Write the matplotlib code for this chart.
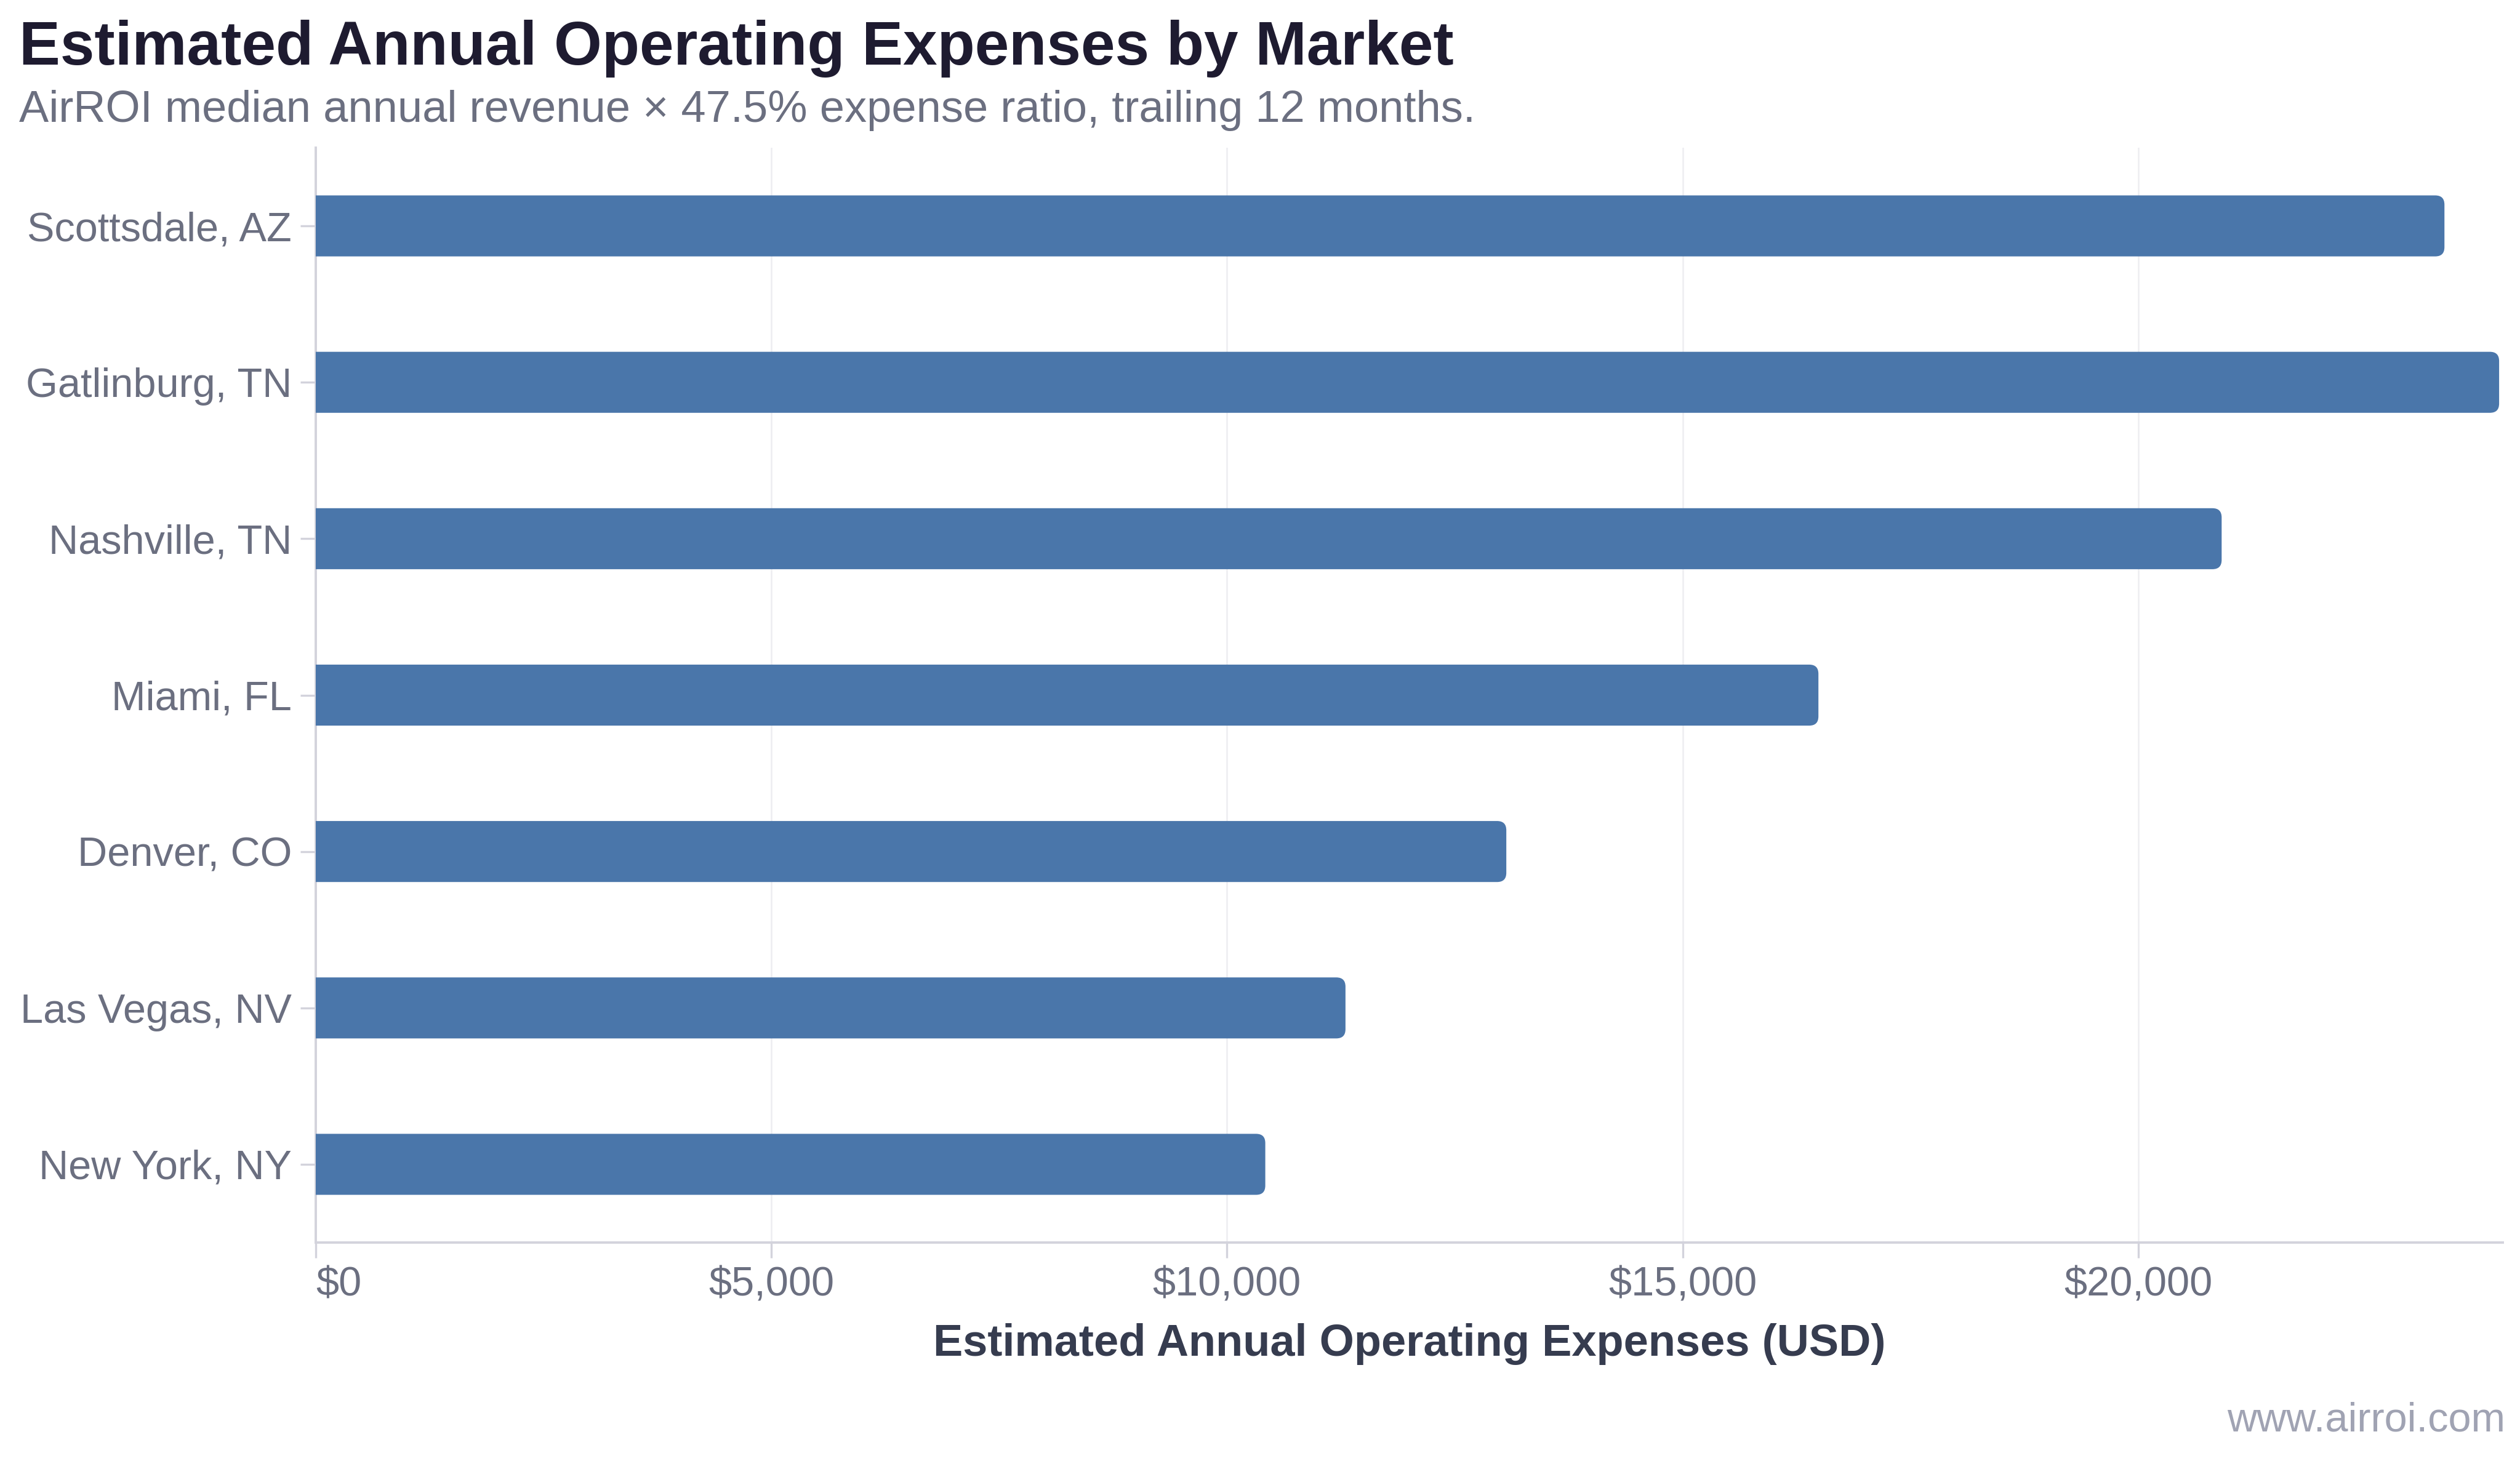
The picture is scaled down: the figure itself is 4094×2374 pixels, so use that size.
import matplotlib
matplotlib.use("Agg")
import matplotlib.pyplot as plt
from matplotlib.patches import FancyBboxPatch
from matplotlib.ticker import FuncFormatter

markets = ["Scottsdale, AZ", "Gatlinburg, TN", "Nashville, TN", "Miami, FL",
           "Denver, CO", "Las Vegas, NV", "New York, NY"]
expenses = [23360, 23960, 20915, 16490, 13065, 11300, 10420]
xticks = [0, 5000, 10000, 15000, 20000]

plt.rcParams['font.family'] = ['Liberation Sans', 'DejaVu Sans']

W, H, DPI = 4094, 2374, 200
fig = plt.figure(figsize=(W / DPI, H / DPI), dpi=DPI, facecolor="white")
ax = fig.add_axes([513 / W, 1 - 2019 / H, (4066 - 513) / W, (2019 - 240) / H])

n = len(markets)
ypos = list(range(n))
xmax = 24000
ax.set_xlim(0, xmax)
ax.set_ylim(n - 0.5, -0.5)

ax_w_px = (4066 - 513)
ax_h_px = (2019 - 240)
xpx = ax_w_px / xmax
ypx = ax_h_px / n
r_px = 15
r_x = r_px / xpx
aspect = xpx / ypx
bar_h = 0.39
color = "#4a76aa"
for y, v in zip(ypos, expenses):
    p = FancyBboxPatch((-r_x * 2, y - bar_h / 2), v + r_x * 2, bar_h,
                       boxstyle=f"round,pad=0,rounding_size={r_x}",
                       mutation_aspect=aspect, facecolor=color,
                       edgecolor="none", zorder=3)
    ax.add_patch(p)

ax.set_yticks(ypos)
ax.set_yticklabels(markets)
ax.set_xticks(xticks)
ax.xaxis.set_major_formatter(FuncFormatter(lambda v, p: f"${v:,.0f}"))

tick_c = "#6b6f80"
ax.tick_params(axis="both", labelsize=24, labelcolor=tick_c, color="#d3d3dc",
               length=9, width=1.2)
ax.tick_params(axis="y", pad=5)
ax.tick_params(axis="x", pad=5)
for lbl in ax.get_xticklabels():
    lbl.set_horizontalalignment("left" if lbl.get_text() == "$0" else "center")

ax.grid(axis="x", color="#ededf1", linewidth=0.9, zorder=0)
ax.set_axisbelow(True)
for s in ["top", "right"]:
    ax.spines[s].set_visible(False)
for s in ["left", "bottom"]:
    ax.spines[s].set_color("#d3d3dc")
    ax.spines[s].set_linewidth(1.4)

ax.set_xlabel("Estimated Annual Operating Expenses (USD)", fontsize=26,
              fontweight="bold", color="#363c4f", labelpad=11)

fig.text(31 / W, 1 - 105 / H, "Estimated Annual Operating Expenses by Market",
         fontsize=36, fontweight="bold", color="#1e1b30", ha="left", va="baseline")
fig.text(31 / W, 1 - 198 / H,
         "AirROI median annual revenue × 47.5% expense ratio, trailing 12 months.",
         fontsize=26, color="#6b6f80", ha="left", va="baseline")
fig.text(4070 / W, 1 - 2325 / H, "www.airroi.com", fontsize=24,
         color="#a0a3b3", ha="right", va="baseline")

fig.savefig("out.png", dpi=DPI, facecolor="white")
